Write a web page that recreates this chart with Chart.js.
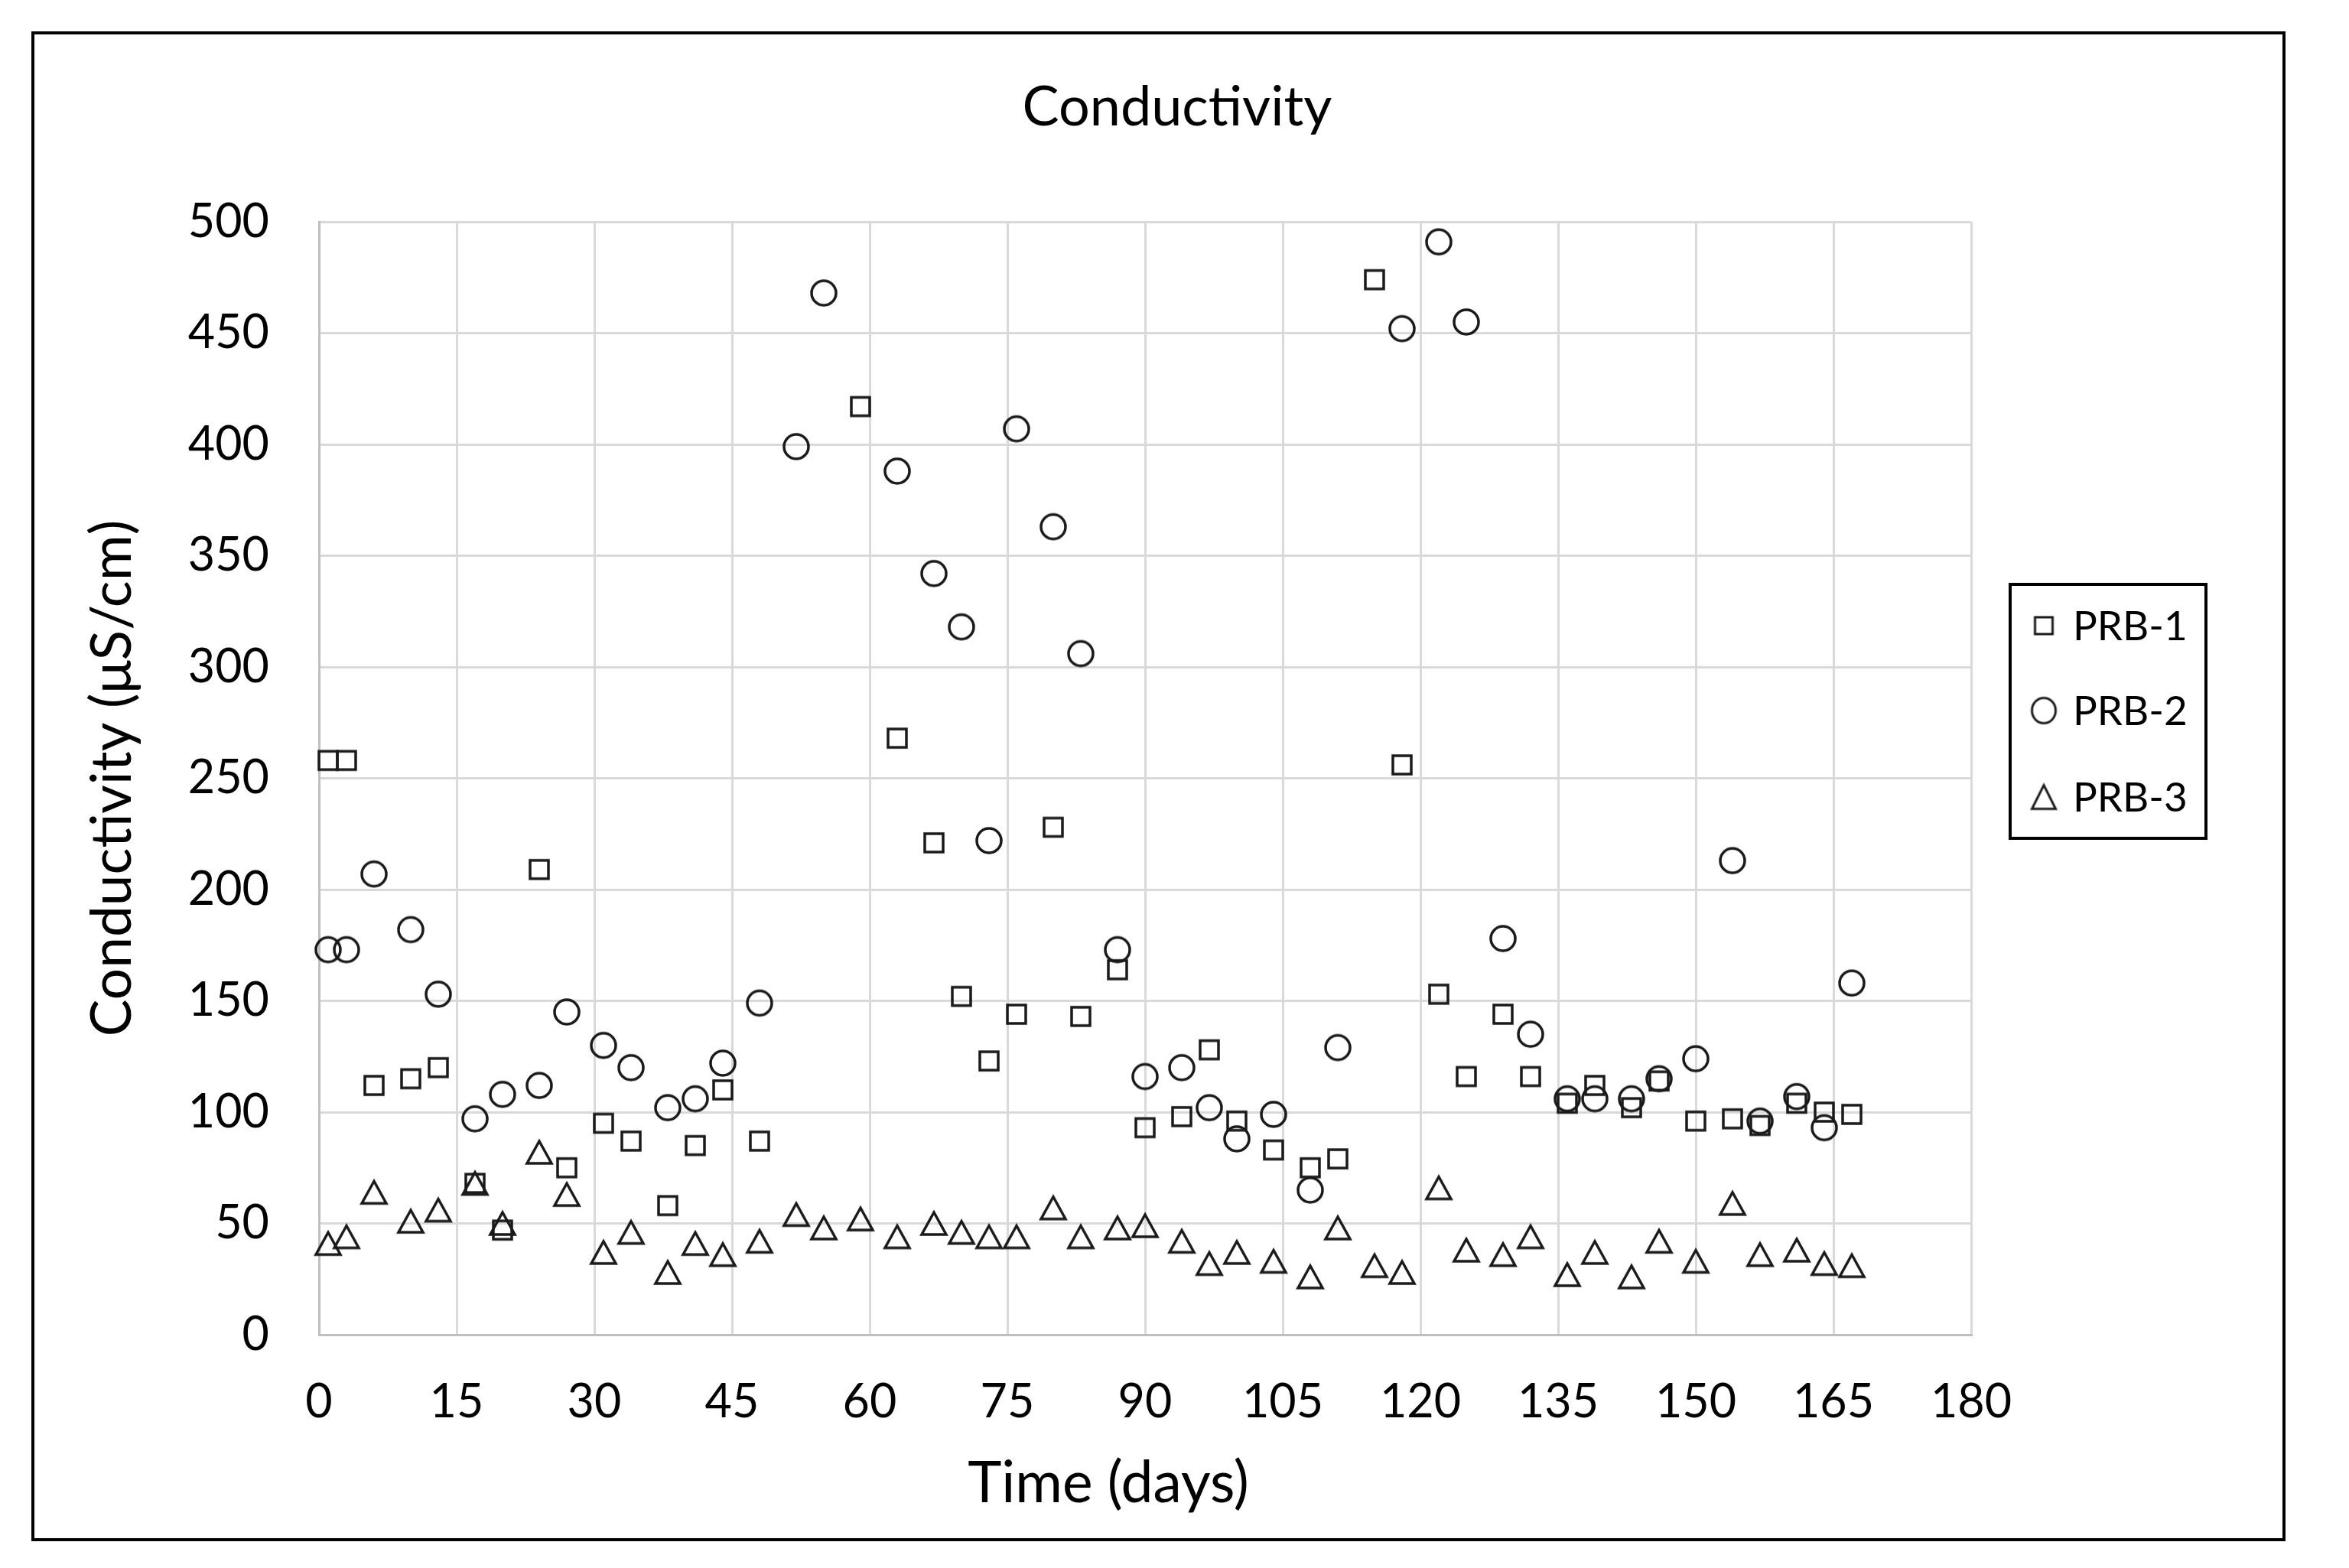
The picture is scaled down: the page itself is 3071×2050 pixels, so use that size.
<!DOCTYPE html>
<html>
<head>
<meta charset="utf-8">
<script src="https://cdn.jsdelivr.net/npm/chart.js@4.4.1/dist/chart.umd.min.js"></script>
<style>
html,body{margin:0;padding:0;background:#fff;}
#wrap{position:relative;width:3071px;height:2050px;}
canvas{display:block;}
</style>
</head>
<body>
<div id="wrap"><canvas id="c" width="3071" height="2050"></canvas></div>
<script>
// ---- data ----
const days = [1,3,6,10,13,17,20,24,27,31,34,38,41,44,48,52,55,59,63,67,70,73,76,80,83,87,90,94,97,100,104,108,111,115,118,122,125,129,132,136,139,143,146,150,154,157,161,164,167];
const prb1 = [258,258,112,115,120,68,47,209,75,95,87,58,85,110,87,null,null,417,268,221,152,123,144,228,143,164,93,98,128,96,83,75,79,474,256,153,116,144,116,104,112,102,114,96,97,94,104,100,99];
const prb2 = [173,173,207,182,153,97,108,112,145,130,120,102,106,122,149,399,468,null,388,342,318,222,407,363,306,173,116,120,102,88,99,65,129,null,452,491,455,178,135,106,106,106,115,124,213,96,107,93,158];
const prb3 = [41,44,64,51,56,68,50,82,63,37,46,28,41,36,42,54,48,52,44,50,46,44,44,57,44,48,49,42,32,37,33,26,48,31,28,66,38,36,44,27,37,26,42,33,59,36,38,32,31];
const seriesNames = ['PRB-1','PRB-2','PRB-3'];
const xTicks = [0,180,15];   // min, max, step
const yTicks = [0,500,50];   // min, max, step

const FONT = 'Lato, "Open Sans", sans-serif';
const INK = '#1a1a1a';

function marker(type, w, h, lw) {
  const pad = Math.ceil(lw) + 1;
  const c = document.createElement('canvas');
  c.width = w + pad * 2; c.height = h + pad * 2;
  const g = c.getContext('2d');
  g.lineWidth = lw; g.strokeStyle = INK; g.lineJoin = 'miter';
  g.beginPath();
  if (type === 'rect') g.rect(pad, pad, w, h);
  else if (type === 'ellipse') g.ellipse(pad + w / 2, pad + h / 2, w / 2, h / 2, 0, 0, Math.PI * 2);
  else { g.moveTo(pad + w / 2, pad); g.lineTo(pad + w, pad + h); g.lineTo(pad, pad + h); g.closePath(); }
  g.stroke();
  return c;
}
const mk = {
  rect: marker('rect', 24, 24, 3.5),
  ellipse: marker('ellipse', 32, 32, 3.5),
  tri: marker('tri', 32, 29, 3.5)
};
const mkLegend = {
  rect: marker('rect', 23, 22, 3),
  ellipse: marker('ellipse', 31, 33, 3),
  tri: marker('tri', 31, 31, 3)
};

function toPoints(vals) {
  const out = [];
  days.forEach((d, i) => { if (vals[i] !== null) out.push({x: d, y: vals[i]}); });
  return out;
}

const decor = {
  id: 'decor',
  afterDraw(chart) {
    const ctx = chart.ctx;
    ctx.save();
    // outer frame
    ctx.strokeStyle = '#000'; ctx.lineWidth = 4;
    ctx.strokeRect(43, 43, 2943, 1970);
    // title
    ctx.fillStyle = '#000';
    ctx.font = '72px ' + FONT;
    ctx.textAlign = 'center'; ctx.textBaseline = 'middle';
    ctx.fillText('Conductivity', 1539, 141);
    // x axis title
    ctx.font = '75px ' + FONT;
    ctx.fillText('Time (days)', 1449, 1940);
    // legend
    ctx.lineWidth = 4; ctx.strokeStyle = '#000';
    ctx.strokeRect(2628, 764, 256, 332);
    const items = [[mkLegend.rect, 818], [mkLegend.ellipse, 929], [mkLegend.tri, 1042]];
    ctx.font = '53px ' + FONT; ctx.textAlign = 'left'; ctx.textBaseline = 'middle';
    items.forEach((it, i) => {
      const img = it[0];
      ctx.drawImage(img, 2672 - img.width / 2, it[1] - img.height / 2);
      ctx.fillText(seriesNames[i], 2710, it[1] + 2);
    });
    ctx.restore();
  }
};

new Chart(document.getElementById('c'), {
  type: 'scatter',
  data: {
    datasets: [
      {label: seriesNames[0], data: toPoints(prb1), pointStyle: mk.rect, clip: false},
      {label: seriesNames[1], data: toPoints(prb2), pointStyle: mk.ellipse, clip: false},
      {label: seriesNames[2], data: toPoints(prb3), pointStyle: mk.tri, clip: false}
    ]
  },
  options: {
    responsive: false,
    animation: false,
    devicePixelRatio: 1,
    layout: {padding: {top: 290, right: 494, left: 0, bottom: 0}},
    plugins: {legend: {display: false}, title: {display: false}, tooltip: {enabled: false}},
    scales: {
      x: {
        type: 'linear', min: xTicks[0], max: xTicks[1],
        ticks: {stepSize: xTicks[2], font: {family: FONT, size: 61}, color: '#000', padding: 52, maxRotation: 0},
        grid: {color: '#d9d9d9', lineWidth: 3, drawTicks: false},
        border: {display: true, color: '#bfbfbf', width: 3},
        title: {display: false},
        afterFit(s) { s.height = 305; }
      },
      y: {
        type: 'linear', min: yTicks[0], max: yTicks[1],
        ticks: {stepSize: yTicks[2], font: {family: FONT, size: 61}, color: '#000', padding: 65},
        grid: {color: '#d9d9d9', lineWidth: 3, drawTicks: false},
        border: {display: true, color: '#bfbfbf', width: 3},
        title: {display: true, text: 'Conductivity (μS/cm)', font: {family: FONT, size: 73}, color: '#000', padding: {top: 104, bottom: 0}},
        afterFit(s) { s.width = 417; }
      }
    }
  },
  plugins: [decor]
});
</script>
</body>
</html>
